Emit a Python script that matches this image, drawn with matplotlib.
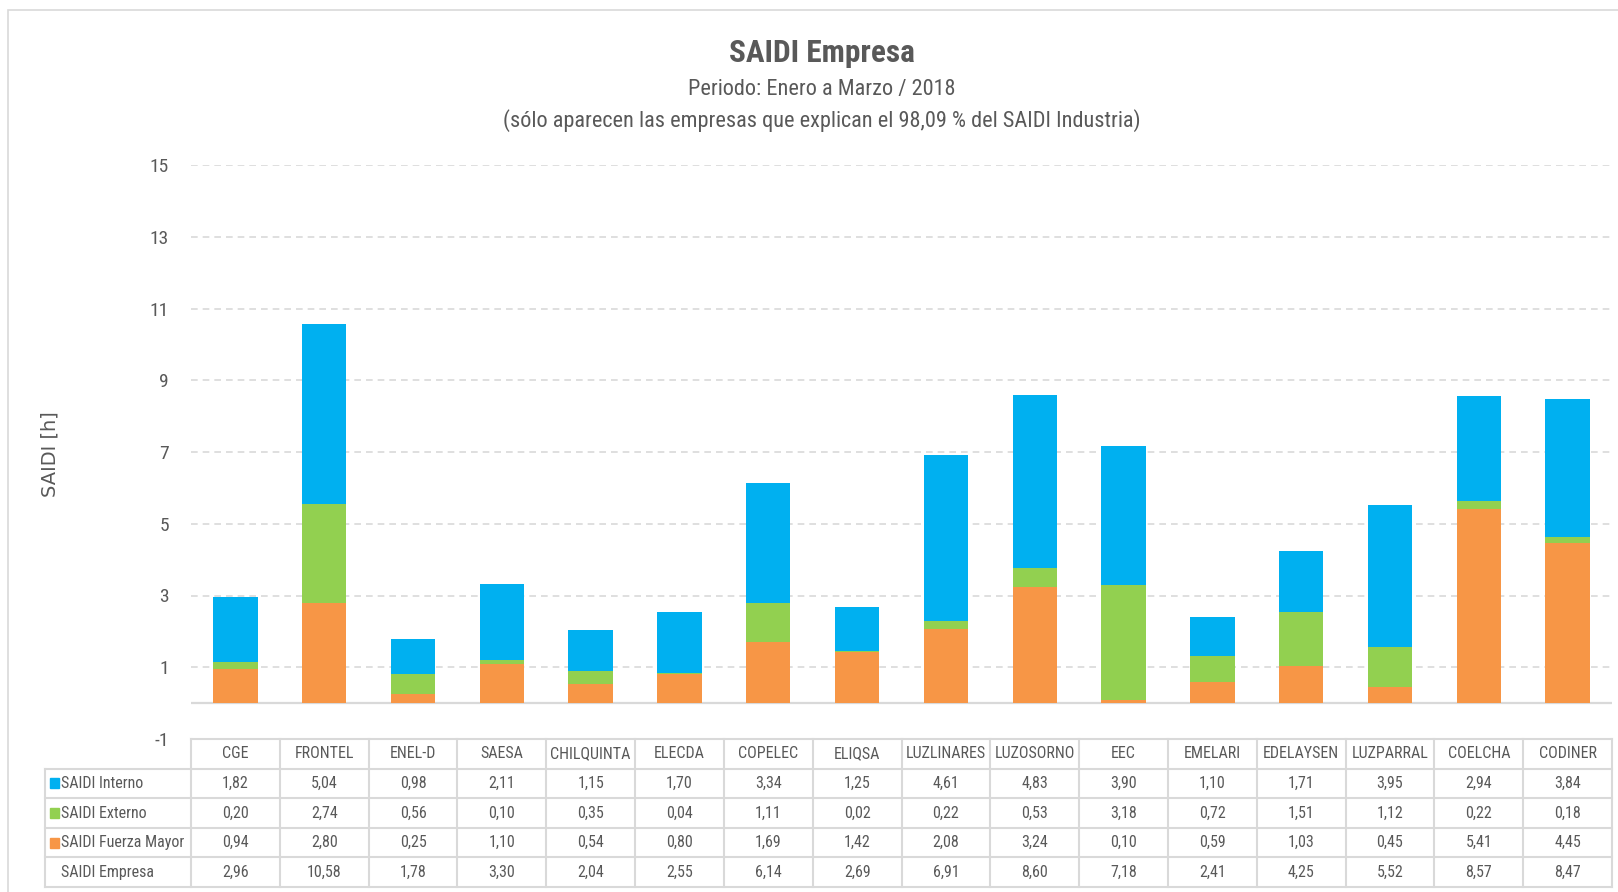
import numpy as np
import matplotlib.pyplot as plt
from matplotlib.patches import Rectangle

# ---- data ----
empresas = ["CGE", "FRONTEL", "ENEL-D", "SAESA", "CHILQUINTA", "ELECDA", "COPELEC", "ELIQSA",
            "LUZLINARES", "LUZOSORNO", "EEC", "EMELARI", "EDELAYSEN", "LUZPARRAL", "COELCHA", "CODINER"]
interno = [1.82, 5.04, 0.98, 2.11, 1.15, 1.70, 3.34, 1.25, 4.61, 4.83, 3.90, 1.10, 1.71, 3.95, 2.94, 3.84]
externo = [0.20, 2.74, 0.56, 0.10, 0.35, 0.04, 1.11, 0.02, 0.22, 0.53, 3.18, 0.72, 1.51, 1.12, 0.22, 0.18]
fuerza_mayor = [0.94, 2.80, 0.25, 1.10, 0.54, 0.80, 1.69, 1.42, 2.08, 3.24, 0.10, 0.59, 1.03, 0.45, 5.41, 4.45]
total = [2.96, 10.58, 1.78, 3.30, 2.04, 2.55, 6.14, 2.69, 6.91, 8.60, 7.18, 2.41, 4.25, 5.52, 8.57, 8.47]
y_ticks = [-1, 1, 3, 5, 7, 9, 11, 13, 15]

series_names = ["SAIDI Interno", "SAIDI Externo", "SAIDI Fuerza Mayor"]
colors = ["#00B0F0", "#92D050", "#F79646"]

TXT = "#595959"
GRID = "#D9D9D9"
plt.rcParams["font.family"] = ["Roboto Condensed", "Lato", "DejaVu Sans"]

W, H = 1618, 892
fig = plt.figure(figsize=(W / 100, H / 100), dpi=100)

# ---- main chart ----
ax = fig.add_axes([191 / W, 1 - 739 / H, 1421 / W, 574 / H])
x = np.arange(len(empresas))
fm = np.array(fuerza_mayor)
ex = np.array(externo)
it = np.array(interno)
ax.bar(x, fm, width=0.5, color=colors[2], zorder=3)
ax.bar(x, ex, width=0.5, bottom=fm, color=colors[1], zorder=3)
ax.bar(x, it, width=0.5, bottom=fm + ex, color=colors[0], zorder=3)

ax.set_xlim(-0.5, len(empresas) - 0.5)
ax.set_ylim(-1, 15)
ax.set_yticks(y_ticks)
ax.set_yticklabels([str(v) for v in y_ticks])
ax.set_xticks([])
ax.tick_params(axis="y", length=0, pad=16, labelsize=14, labelcolor=TXT)
for s in ax.spines.values():
    s.set_visible(False)
for v in y_ticks[1:]:
    ax.axhline(v, color=GRID, lw=1.2, ls=(0, (4, 3)), zorder=1)
ax.axhline(0, color=GRID, lw=1.6, zorder=2)

# ---- titles ----
fig.text(822 / W, 1 - 53 / H, "SAIDI Empresa", ha="center", va="center",
         fontsize=22.5, fontweight="bold", color=TXT)
fig.text(822 / W, 1 - 89 / H, "Periodo: Enero a Marzo / 2018", ha="center", va="center",
         fontsize=16, color=TXT)
fig.text(822 / W, 1 - 121 / H, "(sólo aparecen las empresas que explican el 98,09 % del SAIDI Industria)",
         ha="center", va="center", fontsize=16, color=TXT)
fig.text(50 / W, 1 - 454 / H, "SAIDI [h]", rotation=90, ha="center", va="center",
         fontsize=14, color=TXT, family="DejaVu Sans")

# ---- data table ----
unit = 1421 / len(empresas)
labw = (191 - 45) / unit
tax = fig.add_axes([45 / W, 1 - 887 / H, (1612 - 45) / W, 148 / H])
left = -0.5 - labw
right = len(empresas) - 0.5
tax.set_xlim(left, right)
tax.set_ylim(5, 0)
tax.axis("off")

lk = dict(color=GRID, lw=1.5, clip_on=False)
tax.plot([-0.5, right], [0, 0], **lk)
for r in range(1, 6):
    tax.plot([left, right], [r, r], **lk)
for k in range(len(empresas) + 1):
    tax.plot([k - 0.5, k - 0.5], [0, 5], **lk)
tax.plot([left, left], [1, 5], **lk)

for i, name in enumerate(empresas):
    tax.text(i, 0.5, name, ha="center", va="center", fontsize=11.5, color=TXT)
rows = [interno, externo, fuerza_mayor, total]
for r, vals in enumerate(rows):
    for i, v in enumerate(vals):
        tax.text(i, r + 1.5, f"{v:.2f}".replace(".", ","), ha="center", va="center",
                 fontsize=11.5, color=TXT)

row_labels = series_names + ["SAIDI Empresa"]
sq = 10 / unit
for r, lab in enumerate(row_labels):
    if r < 3:
        tax.add_patch(Rectangle((left + 4.5 / unit, r + 1.5 - 0.17), sq, 0.34,
                                color=colors[r], clip_on=False))
    tax.text(left + 16 / unit, r + 1.5, lab, ha="left", va="center", fontsize=11.5, color=TXT)

# ---- outer frame ----
fig.patches.append(Rectangle((8 / W, -0.05), 1.2, 1 - 10 / H + 0.05, transform=fig.transFigure,
                             fill=False, edgecolor=GRID, lw=1.2))

fig.savefig("out.png", dpi=100)
